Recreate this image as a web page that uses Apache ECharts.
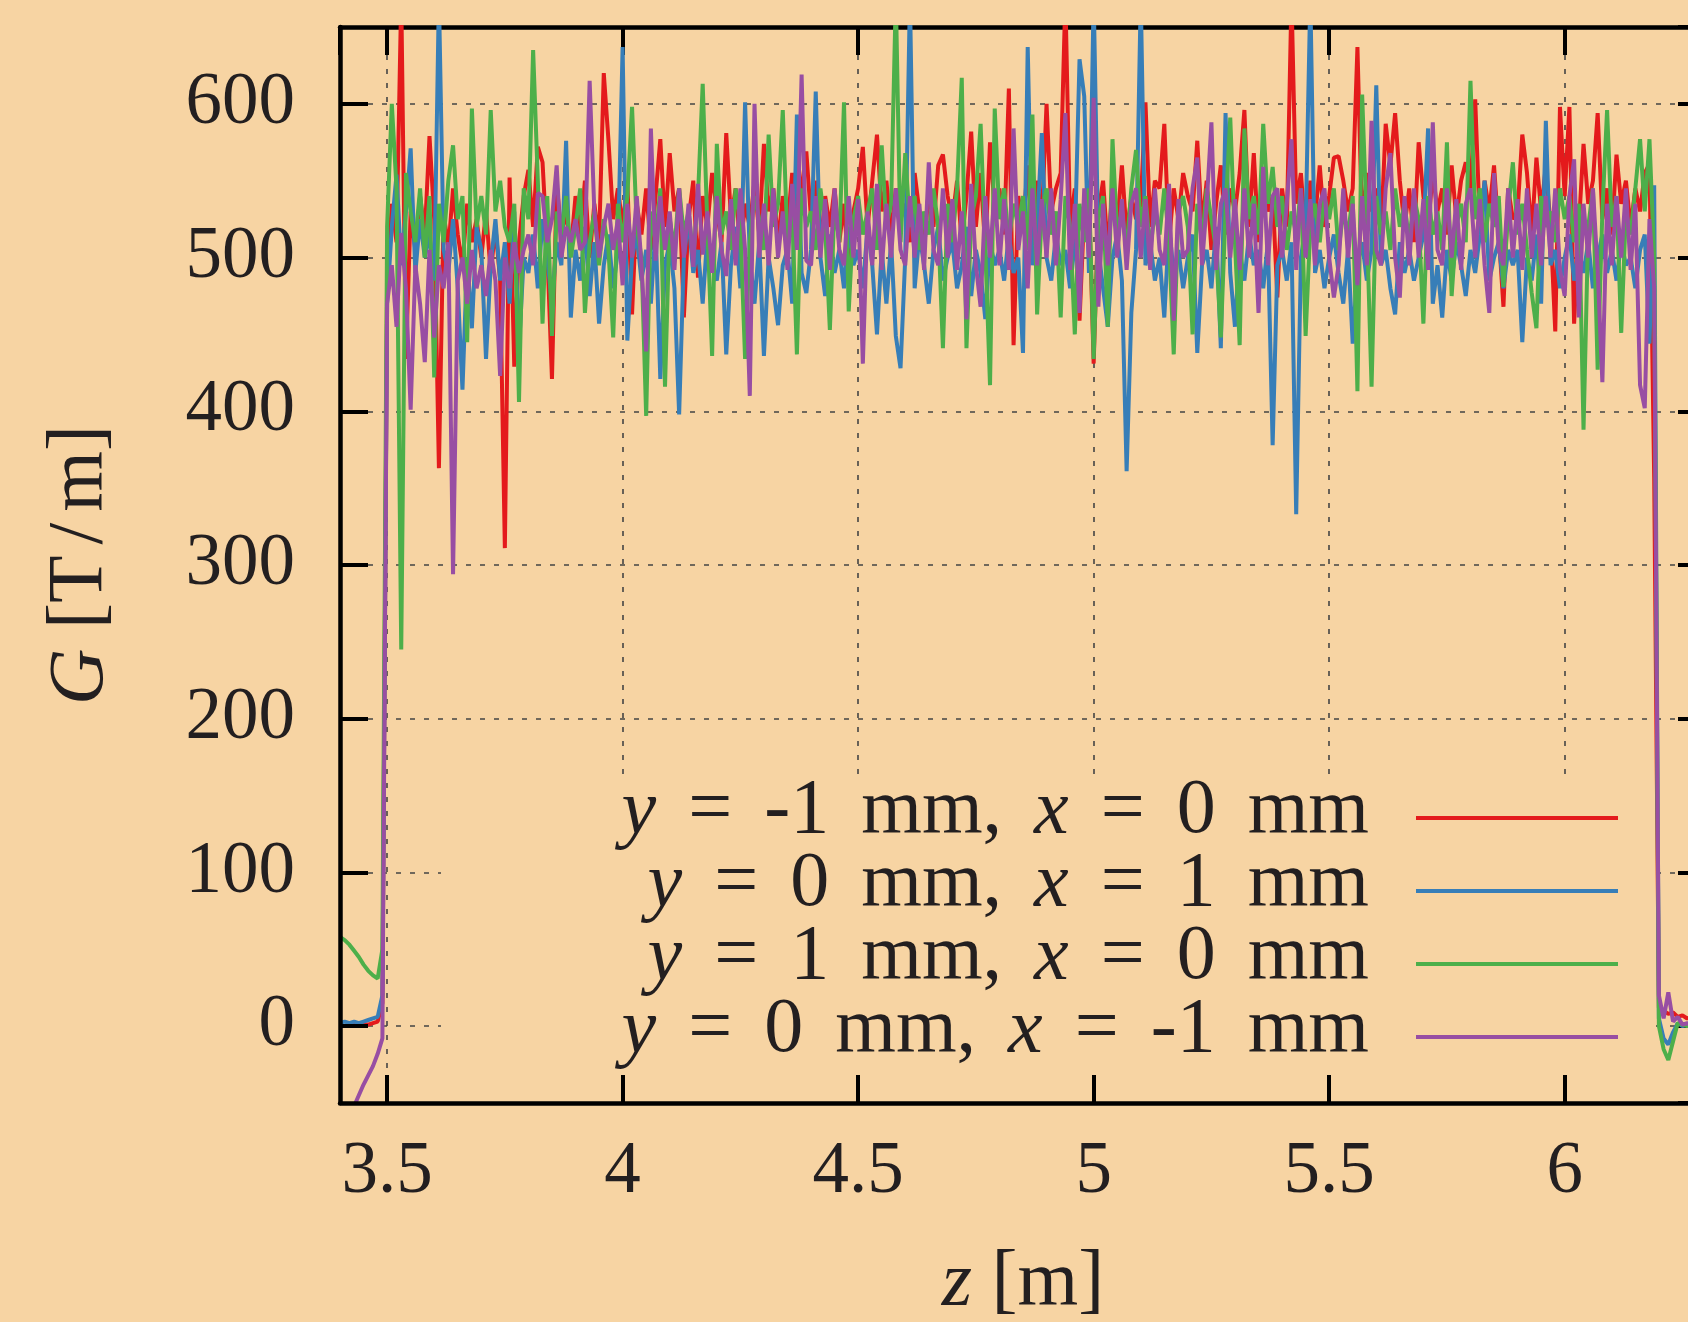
<!DOCTYPE html>
<html>
<head>
<meta charset="utf-8">
<title>G(z)</title>
<script src="https://cdn.jsdelivr.net/npm/echarts@6/dist/echarts.min.js"></script>
<style>
  html, body { margin: 0; padding: 0; background: #f7d4a3; }
  #chart { width: 1688px; height: 1322px; }
</style>
</head>
<body>
<div id="chart"></div>
<script>
// sampling of z [m]: first value and step, one value per 0.01 m
const zStart = 3.4
const zStep = 0.01

// G [T/m], 10 values per row (3.40, 3.50, ... 6.20)
const gRed = [
  1, 0, 1, 1, 0, 1, 1, 2, 3, 15,
  480, 535, 510, 670, 434, 530, 505, 540, 515, 579,
  525, 363, 530, 505, 545, 515, 495, 535, 510, 525,
  500, 530, 490, 520, 485, 311, 552, 429, 510, 540,
  557, 520, 572, 562, 505, 421, 548, 515, 530, 505,
  540, 515, 550, 500, 535, 510, 620, 576, 525, 545,
  520, 550, 463, 535, 515, 545, 505, 540, 577, 520,
  568, 530, 545, 461, 525, 550, 487, 540, 520, 555,
  530, 510, 581, 525, 545, 505, 535, 520, 550, 515,
  574, 530, 545, 510, 540, 520, 555, 530, 545, 569,
  525, 550, 505, 540, 520, 545, 510, 535, 490, 530,
  545, 572, 520, 550, 580, 530, 550, 515, 545, 525,
  535, 510, 555, 530, 505, 545, 520, 560, 567, 540,
  525, 550, 510, 540, 582, 520, 555, 505, 575, 530,
  545, 515, 610, 443, 540, 520, 560, 510, 550, 525,
  600, 530, 545, 555, 670, 520, 545, 459, 530, 540,
  431, 530, 550, 505, 545, 520, 560, 515, 540, 525,
  535, 601, 520, 550, 545, 587, 510, 545, 525, 555,
  540, 530, 576, 520, 550, 505, 535, 560, 515, 545,
  530, 555, 596, 520, 568, 510, 545, 530, 540, 474,
  545, 520, 670, 535, 555, 515, 550, 525, 560, 520,
  540, 565, 566, 550, 530, 545, 637, 520, 555, 530,
  545, 515, 587, 560, 594, 550, 520, 545, 510, 575,
  540, 520, 555, 530, 545, 515, 560, 525, 550, 562,
  545, 603, 520, 550, 530, 560, 515, 468, 545, 525,
  530, 580, 555, 515, 565, 530, 560, 520, 452, 598,
  540, 598, 457, 520, 574, 535, 550, 594, 525, 545,
  515, 567, 535, 550, 520, 545, 530, 555, 561, 357,
  12, 10, 8, 9, 6, 7, 5, 6, 5, 5, 5
]

const gBlue = [
  2, 3, 2, 3, 2, 3, 4, 5, 6, 20,
  470, 520, 554, 495, 530, 571, 490, 525, 500, 515,
  485, 670, 505, 490, 525, 480, 414, 500, 454, 520,
  505, 434, 495, 525, 485, 510, 470, 530, 441, 500,
  490, 515, 480, 525, 500, 470, 510, 495, 576, 461,
  505, 485, 520, 475, 510, 457, 495, 515, 480, 505,
  637, 446, 500, 515, 485, 505, 470, 520, 421, 495,
  510, 480, 398, 500, 525, 490, 505, 470, 515, 495,
  485, 510, 437, 495, 520, 480, 601, 500, 470, 510,
  436, 500, 480, 456, 495, 505, 470, 593, 490, 477,
  505, 608, 500, 475, 515, 490, 505, 480, 520, 495,
  505, 480, 520, 495, 450, 505, 470, 510, 449, 428,
  500, 670, 480, 515, 495, 470, 505, 520, 485, 500,
  510, 480, 495, 520, 475, 505, 490, 460, 510, 495,
  505, 485, 515, 490, 500, 438, 637, 495, 520, 581,
  500, 485, 515, 495, 505, 480, 510, 629, 605, 490,
  670, 505, 480, 455, 500, 515, 485, 361, 464, 505,
  670, 495, 510, 485, 500, 461, 520, 490, 505, 480,
  500, 515, 438, 495, 505, 480, 520, 441, 594, 490,
  455, 505, 485, 515, 495, 505, 480, 510, 378, 495,
  505, 485, 510, 333, 500, 520, 670, 490, 505, 480,
  500, 515, 490, 470, 505, 444, 495, 510, 485, 505,
  612, 495, 505, 480, 463, 510, 490, 505, 485, 500,
  515, 584, 470, 495, 461, 505, 485, 510, 495, 475,
  505, 490, 515, 550, 485, 500, 510, 480, 505, 495,
  505, 445, 500, 485, 515, 470, 589, 495, 505, 480,
  500, 515, 485, 505, 490, 510, 480, 500, 515, 490,
  505, 485, 510, 495, 500, 480, 505, 515, 444, 547,
  5, -8, -12, -4, 2, 0, 1, 0, 1, 0, 1
]

const gGreen = [
  58, 56, 53, 49, 45, 40, 36, 33, 31, 50,
  520, 600, 545, 245, 555, 530, 510, 545, 500, 540,
  422, 535, 510, 550, 573, 525, 540, 445, 597, 520,
  540, 515, 596, 530, 550, 520, 510, 535, 406, 545,
  525, 635, 550, 457, 540, 449, 530, 515, 540, 500,
  520, 545, 464, 510, 530, 495, 525, 505, 448, 535,
  510, 540, 598, 520, 500, 397, 530, 510, 545, 416,
  525, 505, 545, 515, 530, 500, 540, 613, 520, 436,
  574, 515, 530, 505, 545, 520, 434, 510, 540, 525,
  505, 580, 520, 535, 596, 510, 530, 437, 545, 520,
  530, 505, 545, 520, 453, 535, 510, 601, 465, 525,
  540, 515, 530, 545, 505, 573, 520, 535, 670, 510,
  568, 520, 540, 505, 530, 515, 545, 520, 441, 535,
  510, 545, 617, 441, 525, 540, 587, 505, 417, 597,
  525, 545, 510, 535, 520, 540, 505, 593, 463, 530,
  545, 515, 530, 461, 540, 520, 450, 535, 510, 545,
  434, 525, 540, 455, 577, 515, 530, 505, 545, 570,
  520, 540, 505, 530, 515, 545, 510, 437, 530, 540,
  520, 450, 535, 510, 545, 525, 505, 448, 530, 591,
  510, 443, 584, 525, 540, 515, 587, 535, 559, 520,
  540, 505, 530, 515, 545, 449, 520, 535, 510, 540,
  525, 545, 505, 530, 515, 540, 413, 606, 520, 416,
  540, 515, 530, 505, 545, 520, 535, 510, 540, 525,
  457, 540, 515, 530, 505, 575, 475, 520, 535, 510,
  615, 525, 545, 510, 535, 520, 540, 481, 530, 562,
  515, 535, 505, 477, 454, 540, 520, 530, 510, 545,
  525, 540, 510, 535, 388, 520, 545, 427, 530, 596,
  520, 540, 451, 530, 515, 545, 577, 530, 577, 500,
  0, -15, -22, -10, 2, 1, 0, 1, 0, 1, 0
]

const gPurple = [
  -75, -68, -60, -52, -45, -38, -32, -26, -18, -8,
  470, 495, 455, 516, 480, 401, 495, 470, 432, 505,
  448, 495, 480, 510, 294, 485, 500, 470, 505, 480,
  495, 475, 505, 485, 423, 500, 480, 510, 490, 505,
  515, 495, 542, 540, 510, 525, 560, 500, 520, 510,
  525, 505, 510, 615, 530, 500, 520, 535, 505, 525,
  482, 535, 500, 540, 495, 439, 584, 498, 540, 505,
  530, 492, 545, 500, 535, 494, 548, 502, 530, 490,
  540, 505, 488, 538, 495, 545, 505, 410, 600, 500,
  535, 495, 545, 500, 530, 492, 548, 505, 619, 498,
  495, 540, 500, 538, 492, 545, 505, 495, 540, 500,
  538, 431, 530, 495, 548, 492, 535, 500, 545, 505,
  495, 540, 500, 535, 492, 562, 505, 495, 545, 500,
  538, 492, 530, 460, 548, 495, 468, 540, 500, 545,
  495, 538, 492, 584, 505, 530, 480, 545, 495, 538,
  500, 545, 495, 538, 594, 492, 535, 464, 545, 500,
  604, 468, 535, 495, 545, 500, 538, 492, 535, 545,
  500, 538, 492, 545, 505, 495, 548, 459, 538, 500,
  505, 545, 565, 495, 535, 588, 492, 535, 545, 500,
  538, 492, 545, 500, 535, 464, 559, 495, 540, 545,
  500, 535, 577, 492, 545, 500, 538, 495, 535, 545,
  500, 474, 495, 545, 500, 535, 482, 540, 495, 589,
  505, 495, 545, 568, 500, 474, 540, 495, 545, 500,
  538, 492, 588, 505, 495, 545, 500, 538, 492, 535,
  545, 500, 538, 495, 464, 555, 505, 495, 545, 500,
  538, 492, 545, 500, 535, 495, 540, 500, 545, 492,
  475, 540, 564, 461, 535, 500, 545, 492, 419, 535,
  495, 540, 500, 545, 492, 535, 417, 402, 525, 480,
  20, 5, 22, 3, 6, 1, 2, 0, 1, 0, 1
]

const seriesNames = [
  '{i|y}{g| }={g| }-1{g| }mm,{g| }{i|x}{g| }={g| }0{g| }mm',
  '{i|y}{g| }={g| }0{g| }mm,{g| }{i|x}{g| }={g| }1{g| }mm',
  '{i|y}{g| }={g| }1{g| }mm,{g| }{i|x}{g| }={g| }0{g| }mm',
  '{i|y}{g| }={g| }0{g| }mm,{g| }{i|x}{g| }={g| }-1{g| }mm'
]
const seriesColors = ['#e41a1c', '#377eb8', '#4daf4a', '#984ea3']
const seriesValues = [gRed, gBlue, gGreen, gPurple]

const bg = '#f7d4a3'
const ink = '#231f20'
const serif = "'Liberation Serif', 'DejaVu Serif', serif"

function toPairs(values) {
  return values.map((v, i) => [+(zStart + i * zStep).toFixed(2), v])
}

const chart = echarts.init(document.getElementById('chart'))

const axisLine = { show: true, onZero: false, lineStyle: { color: '#000', width: 4.5 } }
const axisTick = { show: true, inside: true, length: 28, lineStyle: { color: '#000', width: 4 } }
const grid = { type: [5, 9], color: '#444', width: 1.6 }
const labelText = { fontSize: 73, fontFamily: serif, color: ink }
const nameRich = {
  i: { fontSize: 78, fontFamily: serif, fontStyle: 'italic', color: ink },
  h: { fontSize: 78, fontFamily: serif, color: ink, width: 11 }
}

const legendItems = []
seriesNames.forEach((name, k) => {
  const y = 818 + k * 73
  legendItems.push({
    type: 'text',
    x: 1369,
    y: y - 6,
    z: 5,
    style: {
      text: name,
      align: 'right',
      verticalAlign: 'middle',
      fontSize: 78,
      fontFamily: serif,
      fill: ink,
      rich: {
        i: { fontSize: 78, fontFamily: serif, fontStyle: 'italic', color: ink },
        g: { fontSize: 78, fontFamily: serif, width: 32 }
      }
    }
  })
  legendItems.push({
    type: 'line',
    z: 5,
    shape: { x1: 1416, y1: y, x2: 1618, y2: y },
    style: { stroke: seriesColors[k], lineWidth: 4 }
  })
})

chart.setOption({
  backgroundColor: bg,
  animation: false,
  grid: { left: 340, top: 27, width: 1366, height: 1076, outerBoundsMode: 'none', containLabel: false },
  xAxis: [
    {
      type: 'value', min: 3.4, max: 6.3, splitNumber: 6, position: 'bottom', z: 3,
      axisLine, axisTick,
      axisLabel: Object.assign({ margin: 33, showMinLabel: false, showMaxLabel: false }, labelText),
      splitLine: { show: false },
      name: '{i|z} [m]', nameLocation: 'middle', nameGap: 142,
      nameTextStyle: { fontSize: 78, fontFamily: serif, color: ink, rich: nameRich }
    },
    {
      type: 'value', min: 3.4, max: 6.3, splitNumber: 6, position: 'top', z: 0,
      axisLine, axisTick,
      axisLabel: { show: false },
      splitLine: { show: true, lineStyle: grid }
    }
  ],
  yAxis: [
    {
      type: 'value', min: -50, max: 650, splitNumber: 7, position: 'left', z: 3,
      axisLine, axisTick,
      axisLabel: Object.assign({ margin: 45, showMinLabel: false, showMaxLabel: false }, labelText),
      splitLine: { show: false },
      name: '{i|G} [T{h| }/{h| }m]', nameLocation: 'middle', nameGap: 220,
      nameTextStyle: { fontSize: 78, fontFamily: serif, color: ink, rich: nameRich }
    },
    {
      type: 'value', min: -50, max: 650, splitNumber: 7, position: 'right', z: 0,
      axisLine, axisTick,
      axisLabel: { show: false },
      splitLine: { show: true, lineStyle: grid }
    }
  ],
  graphic: [
    // key box, hides the grid lines behind the legend
    {
      type: 'rect', z: 1,
      shape: { x: 441, y: 780, width: 1214, height: 323 },
      style: { fill: bg }
    }
  ].concat(legendItems),
  series: seriesValues.map((vals, k) => ({
    type: 'line',
    name: 'G' + k,
    data: toPairs(vals),
    xAxisIndex: 0,
    yAxisIndex: 0,
    showSymbol: false,
    clip: true,
    z: 2,
    lineStyle: { color: seriesColors[k], width: 4 },
    itemStyle: { color: seriesColors[k] }
  }))
})
</script>
</body>
</html>
